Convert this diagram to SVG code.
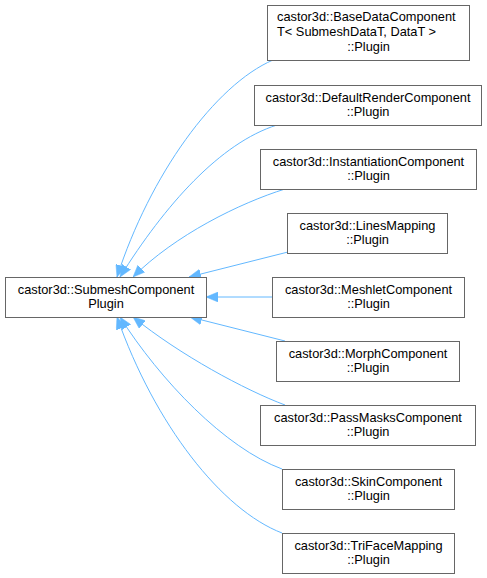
<svg xmlns="http://www.w3.org/2000/svg" width="487" height="578" viewBox="0 0 487 578">
<style>
.node rect{fill:#ffffff;stroke:#666666;stroke-width:1}
.node text{font-family:"Liberation Sans",Arial,sans-serif;font-size:12.8px;fill:#000000}
.c{text-anchor:middle}
.edge path{fill:none;stroke:#63b8ff;stroke-width:1;marker-end:url(#arr)}
</style>
<defs>
<marker id="arr" viewBox="0 0 12 10" refX="12" refY="5" markerWidth="12" markerHeight="10" markerUnits="userSpaceOnUse" orient="auto">
<path d="M0,0 L12,5 L0,10 z" fill="#63b8ff" stroke="#63b8ff" stroke-width="0.5"/>
</marker>
</defs>
<rect width="487" height="578" fill="#ffffff"/>
<g id="edges" class="edge">
<path d="M273,60 C215,85 150,175 117,277"/>
<path d="M277,125 C220,143 165,205 120,277"/>
<path d="M285,189 C240,203 175,235 133,277"/>
<path d="M288,252 L189,277"/>
<path d="M272,297 L206,297"/>
<path d="M285,341 L190,317"/>
<path d="M285,405 C245,390 180,355 133,317"/>
<path d="M282,469 C225,448 160,380 120,317"/>
<path d="M282,533 C222,510 155,425 117,317"/>
</g>
<g id="node_submesh" class="node">
<rect x="5.5" y="277.5" width="201" height="40"/>
<text class="c" x="106" y="294">castor3d::SubmeshComponent</text>
<text class="c" x="106" y="308">Plugin</text>
</g>
<g id="node_basedata" class="node">
<rect x="267.5" y="5.5" width="202" height="55"/>
<text x="277" y="21">castor3d::BaseDataComponent</text>
<text x="277" y="36">T&lt; SubmeshDataT, DataT &gt;</text>
<text class="c" x="368.5" y="51">::Plugin</text>
</g>
<g id="node_defaultrender" class="node">
<rect x="254.5" y="85.5" width="227" height="40"/>
<text class="c" x="368" y="102">castor3d::DefaultRenderComponent</text>
<text class="c" x="368" y="116">::Plugin</text>
</g>
<g id="node_instantiation" class="node">
<rect x="260.5" y="149.5" width="216" height="40"/>
<text class="c" x="368.5" y="166">castor3d::InstantiationComponent</text>
<text class="c" x="368.5" y="180">::Plugin</text>
</g>
<g id="node_linesmapping" class="node">
<rect x="287.5" y="213.5" width="160" height="40"/>
<text class="c" x="367.5" y="230">castor3d::LinesMapping</text>
<text class="c" x="367.5" y="244">::Plugin</text>
</g>
<g id="node_meshlet" class="node">
<rect x="272.5" y="277.5" width="192" height="40"/>
<text class="c" x="368.5" y="294">castor3d::MeshletComponent</text>
<text class="c" x="368.5" y="308">::Plugin</text>
</g>
<g id="node_morph" class="node">
<rect x="276.5" y="341.5" width="183" height="40"/>
<text class="c" x="368" y="358">castor3d::MorphComponent</text>
<text class="c" x="368" y="372">::Plugin</text>
</g>
<g id="node_passmasks" class="node">
<rect x="260.5" y="405.5" width="215" height="40"/>
<text class="c" x="368" y="422">castor3d::PassMasksComponent</text>
<text class="c" x="368" y="436">::Plugin</text>
</g>
<g id="node_skin" class="node">
<rect x="282.5" y="469.5" width="172" height="40"/>
<text class="c" x="368.5" y="486">castor3d::SkinComponent</text>
<text class="c" x="368.5" y="500">::Plugin</text>
</g>
<g id="node_triface" class="node">
<rect x="282.5" y="533.5" width="172" height="40"/>
<text class="c" x="368.5" y="550">castor3d::TriFaceMapping</text>
<text class="c" x="368.5" y="564">::Plugin</text>
</g>
</svg>
